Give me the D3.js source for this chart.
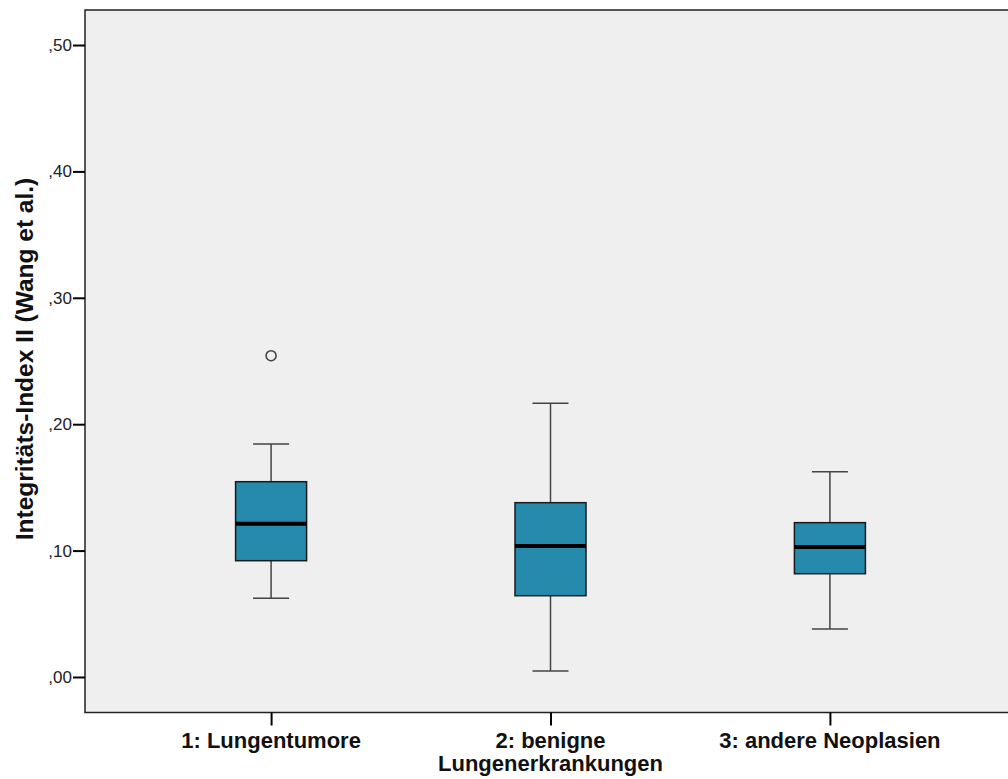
<!DOCTYPE html>
<html>
<head>
<meta charset="utf-8">
<script src="https://cdn.jsdelivr.net/npm/d3@7"></script>
<style>
  html, body { margin: 0; padding: 0; background: #ffffff; }
  svg { display: block; }
</style>
</head>
<body>
<script>
// ---- data ----
const categories = ["1: Lungentumore", "2: benigne\nLungenerkrankungen", "3: andere Neoplasien"];
const whiskerLow  = [0.0622, 0.0047, 0.0380];
const q1          = [0.0920, 0.0643, 0.0817];
const medians     = [0.1213, 0.1036, 0.1028];
const q3          = [0.1545, 0.1379, 0.1221];
const whiskerHigh = [0.1843, 0.2165, 0.1624];
const outliers    = [{cat: 0, value: 0.2542}];
const yTicks      = [0, 0.1, 0.2, 0.3, 0.4, 0.5];
const yTickLabels = [",00", ",10", ",20", ",30", ",40", ",50"];
const yTitle = "Integritäts-Index II (Wang et al.)";

// ---- layout ----
const W = 1008, H = 779;
const plot = {left: 85, top: 10, right: 1016, bottom: 712.5};

const svg = d3.select("body").append("svg").attr("width", W).attr("height", H);

const y = d3.scaleLinear().domain([-0.0281, 0.5277]).range([plot.bottom, plot.top]);
const x = d3.scalePoint().domain(categories).range([plot.left, plot.right]).padding(0.666);

// plot background
svg.append("rect")
  .attr("x", plot.left).attr("y", plot.top)
  .attr("width", plot.right - plot.left).attr("height", plot.bottom - plot.top)
  .attr("fill", "#efefef").attr("stroke", "#222").attr("stroke-width", 1.5);

// y axis
const yAxis = d3.axisLeft(y).tickValues(yTicks)
  .tickFormat((d, i) => yTickLabels[i]).tickSize(12).tickPadding(1);
const gy = svg.append("g").attr("transform", `translate(${plot.left},0)`).call(yAxis);
gy.select(".domain").remove();
gy.selectAll(".tick line").attr("stroke", "#000").attr("stroke-width", 2);
gy.selectAll(".tick text").attr("fill", "#222")
  .style("font-family", "'Liberation Sans', Arial, sans-serif").style("font-size", "17px");

// x axis
const xAxis = d3.axisBottom(x).tickSize(13).tickFormat("");
const gx = svg.append("g").attr("transform", `translate(0,${plot.bottom})`).call(xAxis);
gx.select(".domain").remove();
gx.selectAll(".tick line").attr("stroke", "#000").attr("stroke-width", 2);

// category labels (multi-line)
categories.forEach(c => {
  const lines = c.split("\n");
  const t = svg.append("text")
    .attr("x", x(c)).attr("y", 748)
    .attr("text-anchor", "middle")
    .attr("fill", "#111")
    .style("font-family", "'Liberation Sans', Arial, sans-serif")
    .style("font-weight", "bold").style("font-size", "22px");
  lines.forEach((ln, i) => {
    t.append("tspan").attr("x", x(c)).attr("dy", i === 0 ? 0 : 23).text(ln);
  });
});

// y title
svg.append("text")
  .attr("transform", `translate(33,${359}) rotate(-90)`)
  .attr("text-anchor", "middle")
  .attr("fill", "#111")
  .style("font-family", "'Liberation Sans', Arial, sans-serif")
  .style("font-weight", "bold").style("font-size", "24.5px")
  .text(yTitle);

// boxes
const boxW = 71, capW = 36;
const boxes = svg.append("g");
categories.forEach((c, i) => {
  const cx = x(c);
  const g = boxes.append("g");
  // whiskers
  g.append("line").attr("x1", cx).attr("x2", cx)
    .attr("y1", y(q3[i])).attr("y2", y(whiskerHigh[i]))
    .attr("stroke", "#444").attr("stroke-width", 1.5);
  g.append("line").attr("x1", cx).attr("x2", cx)
    .attr("y1", y(q1[i])).attr("y2", y(whiskerLow[i]))
    .attr("stroke", "#444").attr("stroke-width", 1.5);
  g.append("line").attr("x1", cx - capW / 2).attr("x2", cx + capW / 2)
    .attr("y1", y(whiskerHigh[i])).attr("y2", y(whiskerHigh[i]))
    .attr("stroke", "#444").attr("stroke-width", 1.5);
  g.append("line").attr("x1", cx - capW / 2).attr("x2", cx + capW / 2)
    .attr("y1", y(whiskerLow[i])).attr("y2", y(whiskerLow[i]))
    .attr("stroke", "#444").attr("stroke-width", 1.5);
  // box
  g.append("rect")
    .attr("x", cx - boxW / 2).attr("y", y(q3[i]))
    .attr("width", boxW).attr("height", y(q1[i]) - y(q3[i]))
    .attr("fill", "#258aab").attr("stroke", "#1a1a1a").attr("stroke-width", 1.5);
  // median
  g.append("line").attr("x1", cx - boxW / 2).attr("x2", cx + boxW / 2)
    .attr("y1", y(medians[i])).attr("y2", y(medians[i]))
    .attr("stroke", "#000").attr("stroke-width", 4);
});

// outliers
boxes.selectAll("circle.out").data(outliers).enter().append("circle")
  .attr("class", "out")
  .attr("cx", d => x(categories[d.cat])).attr("cy", d => y(d.value))
  .attr("r", 5).attr("fill", "none").attr("stroke", "#444").attr("stroke-width", 1.6);
</script>
</body>
</html>
